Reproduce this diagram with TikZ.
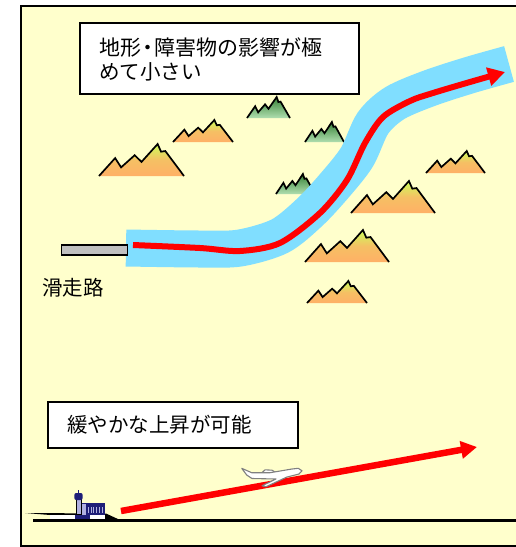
\documentclass[tikz,border=0pt]{standalone}
\usepackage{fontspec}
\setmainfont{Noto Sans CJK JP}
\usetikzlibrary{arrows.meta}

\definecolor{bgyellow}{RGB}{255,255,204}
\definecolor{river}{RGB}{128,222,255}
\definecolor{routered}{RGB}{255,0,0}
\definecolor{mtnorangebot}{RGB}{255,176,102}
\definecolor{mtnorangetop}{RGB}{204,255,90}
\definecolor{mtngreentop}{RGB}{55,130,55}
\definecolor{mtngreenbot}{RGB}{175,222,175}
\definecolor{runwaygrey}{RGB}{192,192,192}
\definecolor{navyblue}{RGB}{30,30,120}
\definecolor{lavender}{RGB}{176,176,224}
\definecolor{planegrey}{RGB}{128,128,128}

% outline of one mountain range: base-left x, base y, width, height
\newcommand\mtnoutline[4]{(#1,#2) -- ({#1+0.19*#3},{#2-0.56*#4}) -- ({#1+0.26*#3},{#2-0.27*#4})
  -- ({#1+0.42*#3},{#2-0.65*#4}) -- ({#1+0.50*#3},{#2-0.44*#4}) -- ({#1+0.69*#3},{#2-#4})
  -- ({#1+0.73*#3},{#2-0.76*#4}) -- ({#1+0.78*#3},{#2-0.78*#4}) -- ({#1+#3},#2)}
% shaded mountain with an open (unstroked) base
\newcommand\mountain[5]{%
  \shade[#5] \mtnoutline{#1}{#2}{#3}{#4} -- cycle;
  \draw[mtnline] \mtnoutline{#1}{#2}{#3}{#4};
}

\tikzset{
  mtnline/.style={black, line width=1.7pt, line join=miter},
  orangemtn/.style={top color=mtnorangetop, bottom color=mtnorangebot, middle color=mtnorangebot!80!mtnorangetop},
  greenmtn/.style={top color=mtngreentop, bottom color=mtngreenbot},
  msgbox/.style={draw=black, line width=2pt, fill=white, inner sep=0pt, anchor=north west},
  txt/.style={inner sep=0pt, anchor=west, text=black, font=\fontsize{20.5}{24}\selectfont},
  routeline/.style={routered, line width=6pt},
}

\begin{document}
\begin{tikzpicture}[x=1pt, y=-1pt]
  \useasboundingbox (0,0) rectangle (515,547);
  \fill[white] (0,0) rectangle (515,547);
  % panel
  \draw[fill=bgyellow, line width=1.8pt] (21,6) rectangle (535,545.6);

  % ---------- upper part: route along the valley ----------
  \mountain{99}{176}{85}{32}{orangemtn}
  \mountain{173}{142}{60}{22}{orangemtn}
  \mountain{426}{173}{59}{22}{orangemtn}
  \mountain{351}{213}{84}{32}{orangemtn}
  \mountain{305}{262}{84}{32}{orangemtn}
  \mountain{307}{303}{60}{22}{orangemtn}
  \mountain{247}{118}{43}{21}{greenmtn}
  \mountain{305}{142}{39}{20}{greenmtn}
  \mountain{276}{194}{39}{20}{greenmtn}

  % corridor
  \draw[river, line width=37pt] plot[smooth, tension=0.5] coordinates
    {(126,248) (200,249) (240,248) (280,236) (310,212) (335,185) (357,157)
     (373,123) (395,103) (430,88) (470,75) (509,64)};
  % flight path
  \draw[routeline, -{Triangle[length=17pt, width=18pt]}] plot[smooth, tension=0.5] coordinates
    {(133,245) (200,248) (240,251) (280,243) (320,213) (347,180) (365,143)
     (383,117) (410,101) (433,93) (470,82) (505,72)};

  % runway (plan view)
  \node[draw=black, fill=runwaygrey, line width=1.5pt, minimum width=66pt, minimum height=10pt,
        inner sep=0pt, anchor=north west] (runway) at (60.7,244.3) {};
  \node[txt] (rwlabel) at (42,288) {滑走路};

  \node[msgbox, minimum width=279pt, minimum height=71pt] (obsbox) at (79,22) {};
  \node[txt, font=\fontsize{21}{24}\selectfont] (obs1) at (99,48) {地形\kern-4pt・\kern-4pt障害物の影響が極};
  \node[txt] (obs2) at (99,72) {めて小さい};

  % ---------- lower part: climb profile ----------
  \node[msgbox, minimum width=250pt, minimum height=46pt] (climbbox) at (47,401) {};
  \node[txt] (climb) at (67,424.5) {緩やかな上昇が可能};

  % ground
  \draw[black, line width=2.6pt] (33,520.7) -- (535,520.7);
  % runway (side view)
  \fill[black] (25,513) -- (106,513.5) -- (119,519.5) -- (50,519.5) -- (50,515) -- cycle;
  \fill[white] (50,514.6) rectangle (75,518.6);
  \fill[navyblue] (75,514.6) rectangle (90,518.6);
  \fill[white] (90,514.6) rectangle (105,518.6);
  % terminal building
  \fill[navyblue] (81.7,503.3) rectangle (105,514.5);
  \fill[lavender] (82.3,504) rectangle (86,514.5);
  \foreach \i in {0,...,5}
    \draw[lavender, line width=0.9pt] ({88.5+\i*2.7},507) -- ({88.5+\i*2.7},512.5);
  % control tower
  \draw[black, fill=lavender, line width=0.6pt] (76,499.5) rectangle (81,514.5);
  \fill[navyblue, rounded corners=2pt] (74.3,493) rectangle (82.7,500);
  \fill[navyblue] (77.6,490.3) rectangle (79.2,493.5);

  % climb path
  \draw[routeline, line width=6.5pt, -{Triangle[length=16pt, width=17pt]}] (121,511) -- (477,447);

  % aircraft
  \draw[planegrey, fill=white, line width=1.1pt, line join=round]
    (262,472.7) -- (265,469.8) -- (272,470.2) -- (276,472.7) -- cycle;
  \draw[planegrey, fill=white, line width=1.1pt, line join=round]
    (241.7,468.3) -- (251.7,472.7) -- (270,472.7) -- (292,469) -- (298.3,468.3)
    -- (302,470.8) -- (299,474) -- (287,477) -- (266,486.7) -- (262,485.8) -- (276,479)
    -- (252,478.5) -- (246.7,475) -- cycle;
\end{tikzpicture}
\end{document}
